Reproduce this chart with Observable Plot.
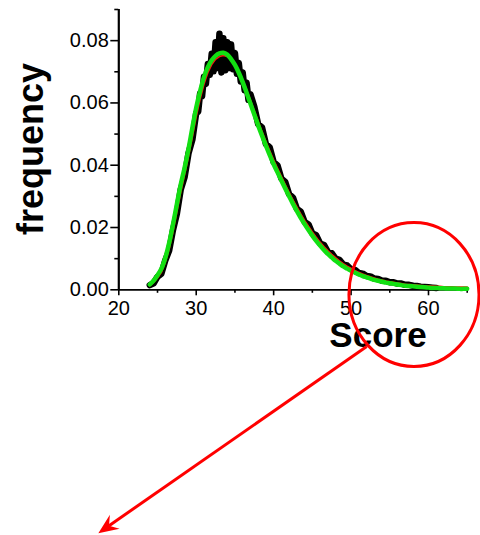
<!DOCTYPE html>
<html><head><meta charset="utf-8">
<script src="https://cdn.jsdelivr.net/npm/d3@7"></script>
<script src="https://cdn.jsdelivr.net/npm/@observablehq/plot@0.6"></script>
<style>html,body{margin:0;padding:0;background:#fff;overflow:hidden}</style>
</head><body><div id="chart"></div>
<script>
// Fit curves (x = Score)
const fitX = [24,24.5,25,25.5,26,26.5,27,27.5,28,28.5,29,29.5,30,30.5,31,31.5,32,32.5,33,33.5,34,34.5,35,35.5,36,36.5,37,37.5,38,38.5,39,39.5,40,40.5,41,41.5,42,42.5,43,43.5,44,44.5,45,45.5,46,46.5,47,47.5,48,48.5,49,49.5,50,50.5,51,51.5,52,52.5,53,53.5,54,54.5,55,55.5,56,56.5,57,57.5,58,58.5,59,59.5,60,60.5,61,61.5,62,62.5,63,63.5,64,64.5,65];
const greenFit = [0.0017,0.0030,0.0047,0.0068,0.0102,0.0150,0.0210,0.0275,0.0338,0.0392,0.0452,0.0520,0.0585,0.0638,0.0683,0.0715,0.0737,0.0751,0.0759,0.0761,0.0755,0.0741,0.0722,0.0697,0.0667,0.0633,0.0598,0.0563,0.0528,0.0495,0.0463,0.0432,0.0403,0.0377,0.0351,0.0325,0.0300,0.0276,0.0253,0.0231,0.0211,0.0192,0.0174,0.0157,0.0142,0.0128,0.0115,0.0104,0.0093,0.0084,0.0075,0.0068,0.0061,0.0055,0.0049,0.0044,0.0040,0.0036,0.0032,0.0029,0.0026,0.0023,0.0021,0.0019,0.0017,0.0015,0.0013,0.0012,0.0011,0.0010,0.0009,0.0008,0.0007,0.0006,0.0006,0.0005,0.0005,0.0004,0.0004,0.0004,0.0003,0.0003,0.0003];
const redFit = [0.0013,0.0024,0.0038,0.0056,0.0088,0.0130,0.0186,0.0250,0.0313,0.0370,0.0428,0.0490,0.0555,0.0612,0.0660,0.0697,0.0723,0.0740,0.0749,0.0752,0.0749,0.0739,0.0723,0.0701,0.0674,0.0643,0.0609,0.0575,0.0541,0.0508,0.0476,0.0446,0.0417,0.0390,0.0364,0.0338,0.0313,0.0289,0.0266,0.0244,0.0223,0.0204,0.0186,0.0169,0.0153,0.0139,0.0126,0.0114,0.0103,0.0093,0.0084,0.0076,0.0069,0.0062,0.0056,0.0051,0.0046,0.0042,0.0038,0.0034,0.0031,0.0028,0.0026,0.0024,0.0022,0.0020,0.0018,0.0017,0.0016,0.0015,0.0014,0.0013,0.0012,0.0012,0.0011,0.0011,0.0010,0.0010,0.0010,0.0009,0.0009,0.0009,0.0009];
// Measured histogram (black)
const dataX = [24,24.5,25,25.5,26,26.5,27,27.5,28,28.5,29,29.5,30,30.25,30.5,30.75,31,31.25,31.5,31.75,32,32.25,32.5,32.75,33,33.25,33.5,33.75,34,34.25,34.5,34.75,35,35.25,35.5,35.75,36,36.25,36.5,36.75,37,37.5,38,38.5,39,39.5,40,40.5,41,41.5,42,42.5,43,43.5,44,44.5,45,45.5,46,46.5,47,47.5,48,48.5,49,49.5,50,50.5,51,51.5,52,52.5,53,53.5,54,54.5,55,55.5,56,56.5,57,57.5,58,58.5,59,59.5,60,60.5,61];
const dataY = [0.0015,0.0021,0.0042,0.0052,0.0094,0.0126,0.0192,0.0244,0.0322,0.0362,0.0438,0.0482,0.0568,0.0572,0.0630,0.0621,0.0684,0.0661,0.0725,0.0690,0.0758,0.0702,0.0795,0.0712,0.0822,0.0698,0.0808,0.0705,0.0795,0.0712,0.0788,0.0708,0.0760,0.0694,0.0728,0.0669,0.0698,0.0641,0.0665,0.0610,0.0628,0.0588,0.0532,0.0521,0.0468,0.0457,0.0410,0.0399,0.0357,0.0346,0.0307,0.0296,0.0260,0.0251,0.0218,0.0210,0.0181,0.0175,0.0149,0.0144,0.0122,0.0118,0.0100,0.0096,0.0081,0.0078,0.0066,0.0064,0.0054,0.0052,0.0044,0.0043,0.0036,0.0035,0.0029,0.0029,0.0024,0.0024,0.0020,0.0020,0.0016,0.0016,0.0013,0.0012,0.0010,0.0009,0.0008,0.0007,0.0006];
// Ticks
const xMajor = [20,30,40,50,60];
const xMinor = [25,35,45,55,65];
const yMajor = [0,0.02,0.04,0.06,0.08];
const yMinor = [0.01,0.03,0.05,0.07,0.09];
// Annotation (data units)
const circleCenter = [58.19, -0.00167];
const circleRadii = [8.4, 0.0231];
const arrowFrom = [52.08, -0.0184];
const arrowTo = [17.42, -0.0783];

const green = fitX.map((x, i) => ({x, y: greenFit[i]}));
const red = fitX.map((x, i) => ({x, y: redFit[i]}));
const data = dataX.map((x, i) => ({x, y: dataY[i]}));

const plot = Plot.plot({
  width: 480, height: 535,
  marginLeft: 118.3, marginRight: 13.3, marginTop: 9, marginBottom: 245.7,
  x: {domain: [20, 65]},
  y: {domain: [0, 0.09]},
  style: {fontFamily: "'Liberation Sans', Arial, sans-serif", fontSize: "20px", color: "black", background: "white"},
  marks: [
    Plot.axisX({ticks: xMajor, tickSize: 6, tickPadding: 5, strokeWidth: 1.6, label: null, fontSize: 20}),
    Plot.axisX({ticks: xMinor, tickSize: 3.5, strokeWidth: 1.6, label: null, tickFormat: () => ""}),
    Plot.axisY({ticks: yMajor, tickSize: 8, tickPadding: 2, strokeWidth: 1.6, label: null, tickFormat: d => d.toFixed(2), fontSize: 20}),
    Plot.axisY({ticks: yMinor, tickSize: 4, strokeWidth: 1.6, label: null, tickFormat: () => ""}),
    Plot.ruleX([20], {y1: 0, y2: 0.09, strokeWidth: 2.2, stroke: "black"}),
    Plot.ruleY([0], {x1: 20, x2: 65, strokeWidth: 1.8, stroke: "black"}),
    Plot.line(data, {x: "x", y: "y", stroke: "black", strokeWidth: 6.5, strokeLinejoin: "round"}),
    Plot.line(red, {x: "x", y: "y", stroke: "#ff1010", strokeWidth: 1.6}),
    Plot.line(green, {x: "x", y: "y", stroke: "#12e012", strokeWidth: 4.5, curve: "catmull-rom"})
  ]
});
document.getElementById("chart").appendChild(plot);

const sx = plot.scale("x"), sy = plot.scale("y");
const svg = d3.select(plot);
// axis titles
svg.append("text").attr("transform", "translate(42.7,149) rotate(-90)")
  .attr("text-anchor", "middle").attr("font-size", 36).attr("font-weight", "bold")
  .attr("font-family", "'Liberation Sans', Arial, sans-serif").attr("fill", "black").text("frequency");
svg.append("text").attr("x", 378).attr("y", 346.7)
  .attr("text-anchor", "middle").attr("font-size", 35).attr("font-weight", "bold")
  .attr("font-family", "'Liberation Sans', Arial, sans-serif").attr("fill", "black").text("Score");
// red ellipse
const cx = sx.apply(circleCenter[0]), cy = sy.apply(circleCenter[1]);
const rx = sx.apply(circleCenter[0] + circleRadii[0]) - cx;
const ry = cy - sy.apply(circleCenter[1] + circleRadii[1]);
svg.append("ellipse").attr("cx", cx).attr("cy", cy).attr("rx", rx).attr("ry", ry)
  .attr("fill", "none").attr("stroke", "#ff0000").attr("stroke-width", 3);
// red arrow
const x0 = sx.apply(arrowFrom[0]), y0 = sy.apply(arrowFrom[1]);
const x1 = sx.apply(arrowTo[0]), y1 = sy.apply(arrowTo[1]);
const L = Math.hypot(x1 - x0, y1 - y0), ux = (x1 - x0) / L, uy = (y1 - y0) / L;
const px = -uy, py = ux;
const hl = 20, hw = 8.5, notch = 13;
svg.append("line").attr("x1", x0).attr("y1", y0)
  .attr("x2", x1 - ux * notch).attr("y2", y1 - uy * notch)
  .attr("stroke", "#ff0000").attr("stroke-width", 3);
const head = [[x1, y1], [x1 - ux * hl + px * hw, y1 - uy * hl + py * hw], [x1 - ux * notch, y1 - uy * notch], [x1 - ux * hl - px * hw, y1 - uy * hl - py * hw]];
svg.append("polygon").attr("points", head.map(p => p.join(",")).join(" ")).attr("fill", "#ff0000");
</script>
</body></html>
